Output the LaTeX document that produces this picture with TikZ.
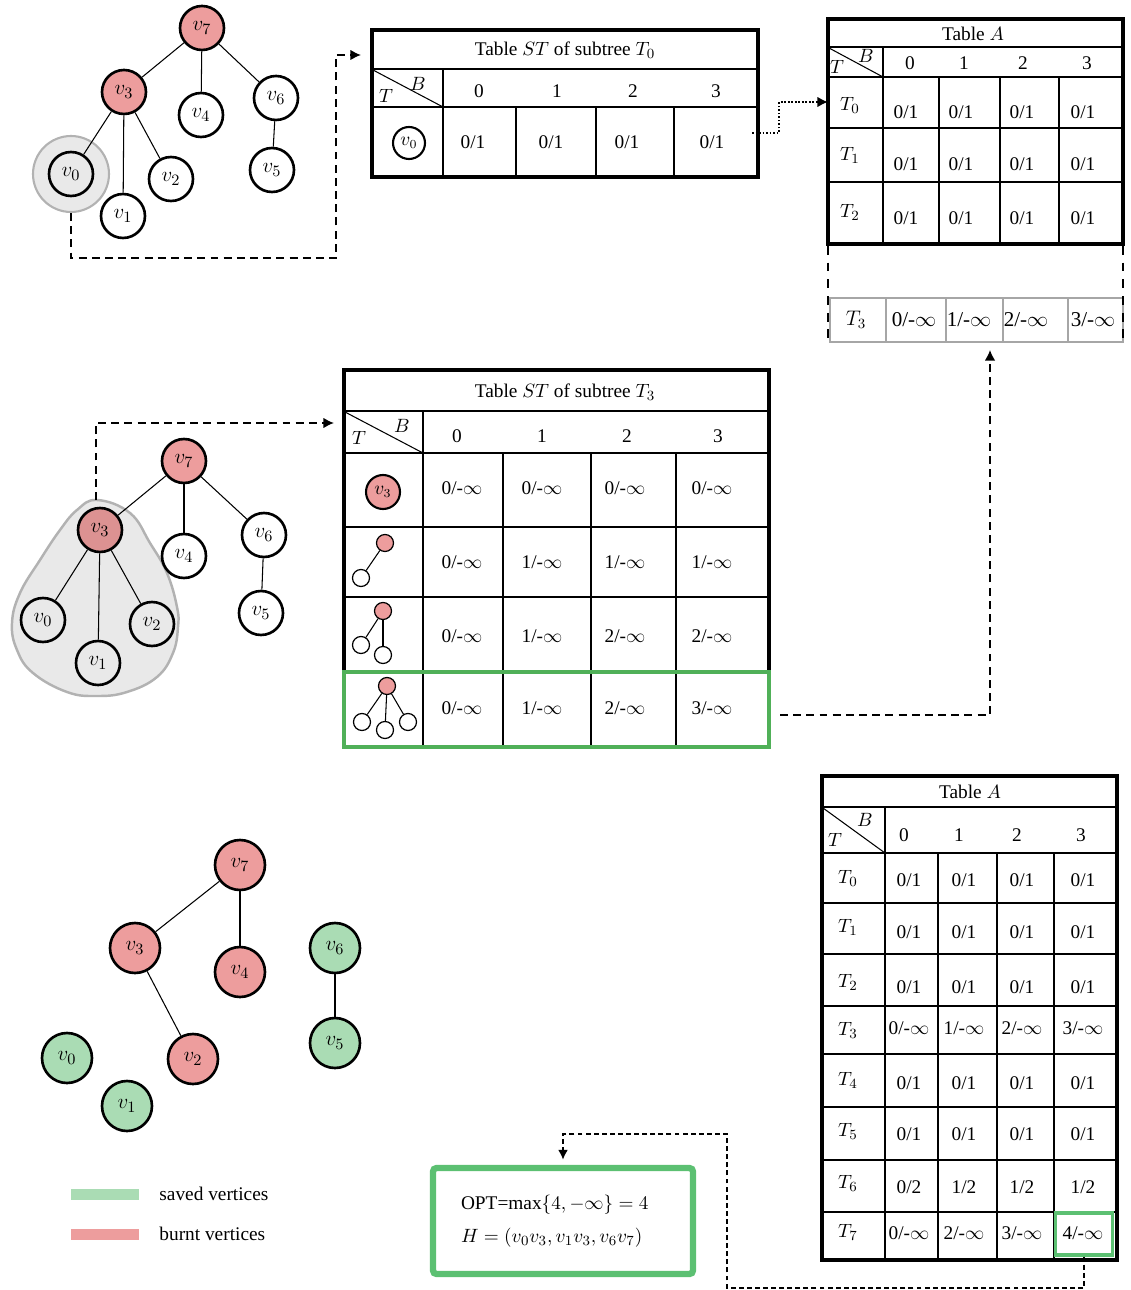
\documentclass[tikz,border=0pt]{standalone}
\usepackage{fontspec}
\setmainfont{Liberation Serif}
\usetikzlibrary{%
        arrows,
        arrows.meta,
        positioning,
        shapes}
\definecolor{burnt}{RGB}{237,157,157}
\definecolor{saved}{RGB}{170,220,180}
\definecolor{okgreen}{RGB}{92,192,114}
\definecolor{rowgreen}{RGB}{80,176,88}
\definecolor{blobgray}{RGB}{233,233,233}
\tikzset{%
    vertex/.style={circle, draw, line width=1.5pt, minimum size=0.88cm,
        inner sep=0pt, font=\fontsize{13}{15}\selectfont},
    burntv/.style={vertex, fill=burnt},
    bigv/.style={vertex, minimum size=1cm},
    cellv/.style={circle, draw, line width=1.2pt, inner sep=0pt,
        minimum size=0.64cm, font=\fontsize{10.5}{12}\selectfont},
    mini/.style={circle, draw, line width=0.7pt, inner sep=0pt,
        minimum size=0.34cm},
    tabcell/.style={inner sep=1pt, font=\fontsize{11}{13}\selectfont},
    tabframe/.style={line width=2.2pt},
    tabrule/.style={line width=1.4pt},
    tedge/.style={line width=0.6pt},
    tip/.style={-{Latex[length=6pt, width=6pt]}},
    link/.style={line width=1pt, dash pattern=on 4.5pt off 3pt, tip},
    legbar/.style={minimum width=1.36cm, minimum height=0.22cm, inner sep=0pt}
}

\begin{document}
\begin{tikzpicture}[x=0.02cm, y=-0.02cm]

    \useasboundingbox (0,0) rectangle (1131,1290);

    \node[circle, fill=blobgray, draw=gray!60, line width=1.2pt,
        minimum size=1.52cm] (ring) at (71,174) {};
    \node[burntv] (a7) at (202,28) {$v_7$};
    \node[burntv] (a3) at (124,92) {$v_3$};
    \node[vertex] (a4) at (201,115) {$v_4$};
    \node[vertex] (a6) at (276,98) {$v_6$};
    \node[vertex] (a0) at (71,174) {$v_0$};
    \node[vertex] (a1) at (123,216) {$v_1$};
    \node[vertex] (a2) at (171,179) {$v_2$};
    \node[vertex] (a5) at (272,170) {$v_5$};
    \foreach \u/\w in {a7/a3, a7/a4, a7/a6, a3/a0, a3/a1, a3/a2, a6/a5}
        \draw[tedge] (\u) -- (\w);

    \coordinate (stAin) at (361,55);
    \draw[link] (ring.south) |- (336,258) |- (stAin);

    \draw[tabframe] (372,30) rectangle (758,177);
    \draw[tabrule] (372,69) -- (758,69) (372,107) -- (758,107)
        (443,69) -- (443,177);
    \foreach \x in {516, 596, 674}
        \draw[tabrule] (\x,107) -- (\x,177);
    \draw[semithick] (373,70) -- (443,107);
    \node[tabcell] (stAtitle) at (565,50) {Table $ST$ of subtree $T_0$};
    \node[tabcell] (stAB) at (418,84) {$B$};
    \node[tabcell] (stAT) at (386,96) {$T$};
    \foreach \x [count=\n from 0] in {479, 557, 633, 716}
        \node[tabcell] (stAh\n) at (\x,91) {\n};
    \node[cellv] (stAv0) at (409,143) {$v_0$};
    \foreach \x [count=\n from 0] in {473, 551, 627, 712}
        \node[tabcell] (stA-\n) at (\x,142) {0/1};

    \coordinate (stAout) at (752,133);
    \coordinate (tAin) at (828,102);
    \draw[densely dotted, line width=1pt, tip] (stAout) -- (779,133) |- (tAin);

    \draw[tabframe] (828,19) rectangle (1123,244);
    \draw[thick] (828,47) -- (1123,47) (828,77) -- (1123,77)
        (828,128) -- (1123,128) (828,182) -- (1123,182);
    \draw[tabrule] (883,47) -- (883,244);
    \foreach \x in {939, 1000, 1059}
        \draw[tabrule] (\x,77) -- (\x,244);
    \draw[semithick] (829,48) -- (883,77);
    \node[tabcell] (tAtitle) at (973,34) {Table $A$};
    \node[tabcell] (tAB) at (866,56) {$B$};
    \node[tabcell] (tAT) at (837,67) {$T$};
    \foreach \x [count=\n from 0] in {910, 964, 1023, 1087}
        \node[tabcell] (tAh\n) at (\x,63) {\n};
    \foreach \y [count=\n from 0] in {105, 155, 212}
        \node[tabcell] (tAr\n) at (850,\y) {$T_\n$};
    \foreach \y [count=\row from 0] in {112, 164, 218}
        \foreach \x [count=\col from 0] in {906, 961, 1022, 1083}
            \node[tabcell] (tA-\row-\col) at (\x,\y) {0/1};

    \draw[gray!70, line width=0.6pt] (830,298) rectangle (1123,342);
    \foreach \x in {886, 946, 1003, 1068}
        \draw[gray!70, line width=0.6pt] (\x,298) -- (\x,342);
    \node[tabcell, font=\fontsize{12}{14}\selectfont] (tAr3) at (856,320) {$T_3$};
    \foreach \x [count=\n from 0] in {914, 969, 1026, 1093}
        \node[tabcell, font=\fontsize{12}{14}\selectfont] (tA-3-\n) at (\x,320)
            {\n/-$\infty$};
    \draw[line width=1.3pt, dash pattern=on 5pt off 4.5pt] (828,246) -- (828,345);
    \draw[line width=1.3pt, dash pattern=on 5pt off 4.5pt] (1123,246) -- (1123,345);

    \draw[fill=blobgray, draw=gray!60, line width=1.4pt]
        plot[smooth cycle, tension=0.7] coordinates {(97,500) (130,513)
        (150,543) (167,573) (177,607) (178,627) (173,653) (157,677)
        (127,692) (97,696) (67,692) (33,673) (17,650) (12,623) (20,593)
        (40,560) (60,530) (77,510)};
    \node[burntv] (b7) at (184,461) {$v_7$};
    \node[burntv, fill=burnt!93!black] (b3) at (100,530) {$v_3$};
    \node[vertex] (b4) at (184,556) {$v_4$};
    \node[vertex] (b6) at (264,535) {$v_6$};
    \node[vertex] (b5) at (261,613) {$v_5$};
    \node[vertex] (b0) at (43,620) {$v_0$};
    \node[vertex] (b1) at (98,663) {$v_1$};
    \node[vertex] (b2) at (152,624) {$v_2$};
    \foreach \u/\w in {b7/b3, b7/b4, b7/b6, b3/b0, b3/b1, b3/b2, b6/b5}
        \draw[tedge] (\u) -- (\w);

    \coordinate (blobtop) at (96,500);
    \coordinate (stBin) at (334,423);
    \draw[link] (blobtop) |- (stBin);

    \draw[tabframe] (344,370) rectangle (769,747);
    \draw[tabrule] (344,411) -- (769,411) (344,453) -- (769,453)
        (344,527) -- (769,527) (344,597) -- (769,597) (344,672) -- (769,672)
        (423,411) -- (423,747);
    \foreach \x in {503, 591, 676}
        \draw[tabrule] (\x,453) -- (\x,747);
    \draw[semithick] (345,412) -- (423,453);
    \node[tabcell] (stBtitle) at (565,392) {Table $ST$ of subtree $T_3$};
    \node[tabcell] (stBB) at (402,426) {$B$};
    \node[tabcell] (stBT) at (359,438) {$T$};
    \foreach \x [count=\n from 0] in {457, 542, 627, 718}
        \node[tabcell] (stBh\n) at (\x,436) {\n};

    \node[cellv, fill=burnt, minimum size=0.68cm] (stBv3) at (383,492) {$v_3$};
    \node[mini, fill=burnt] (p1) at (385,543) {};
    \node[mini] (p1a) at (361,578) {};
    \node[mini, fill=burnt] (p2) at (383,611) {};
    \node[mini] (p2a) at (361,645) {};
    \node[mini] (p2b) at (383,655) {};
    \node[mini, fill=burnt] (p3) at (387,686) {};
    \node[mini] (p3a) at (362,722) {};
    \node[mini] (p3b) at (385,730) {};
    \node[mini] (p3c) at (408,722) {};
    \foreach \u/\w in {p1/p1a, p2/p2a, p2/p2b, p3/p3a, p3/p3b, p3/p3c}
        \draw[tedge] (\u) -- (\w);

    \foreach \y/\va/\vb/\vc/\vd [count=\row from 0] in
        {488/0/0/0/0, 562/0/1/1/1, 636/0/1/2/2, 708/0/1/2/3}
        \foreach \x/\v [count=\col from 0] in {462/\va, 542/\vb, 625/\vc, 712/\vd}
            \node[tabcell] (stB-\row-\col) at (\x,\y) {\v/-$\infty$};
    \node[draw=rowgreen, line width=2.2pt, minimum width=8.5cm,
        minimum height=1.5cm, inner sep=0pt] (stBsel) at (556.5,709.5) {};

    \coordinate (stBout) at (780,715);
    \coordinate (tAT3) at (990,350);
    \draw[link, line width=0.9pt] (stBout) -| (tAT3);

    \node[burntv, bigv] (c7) at (240,865) {$v_7$};
    \node[burntv, bigv] (c3) at (135,948) {$v_3$};
    \node[burntv, bigv] (c4) at (240,972) {$v_4$};
    \node[burntv, bigv] (c2) at (193,1059) {$v_2$};
    \node[bigv, fill=saved] (c6) at (335,948) {$v_6$};
    \node[bigv, fill=saved] (c5) at (335,1043) {$v_5$};
    \node[bigv, fill=saved] (c0) at (67,1058) {$v_0$};
    \node[bigv, fill=saved] (c1) at (127,1106) {$v_1$};
    \foreach \u/\w in {c7/c3, c7/c4, c3/c2, c6/c5}
        \draw[tedge] (\u) -- (\w);

    \node[legbar, fill=saved] (legsaved) at (105,1194) {};
    \node[tabcell, right=0.36cm of legsaved] (legsavedtxt) {saved vertices};
    \node[legbar, fill=burnt] (legburnt) at (105,1234) {};
    \node[tabcell, right=0.36cm of legburnt] (legburnttxt) {burnt vertices};

    \node[draw=okgreen, line width=3.6pt, rounded corners=2pt,
        minimum height=2.12cm, text width=4.08cm, inner xsep=0.56cm,
        align=left, font=\fontsize{11}{13}\selectfont] (opt) at (563,1221)
        {OPT=$\max\{4,-\infty\}=4$\\[6pt] $H=(v_0v_3, v_1v_3, v_6v_7)$};

    \draw[tabframe] (822,776) rectangle (1117,1260);
    \foreach \y in {807, 853, 903, 954, 1006, 1054, 1107, 1160, 1212}
        \draw[tabrule] (822,\y) -- (1117,\y);
    \draw[tabrule] (885,807) -- (885,1260);
    \foreach \x in {938, 997, 1054}
        \draw[tabrule] (\x,853) -- (\x,1260);
    \draw[semithick] (823,808) -- (885,853);
    \node[tabcell] (tBtitle) at (970,792) {Table $A$};
    \node[tabcell] (tBB) at (865,820) {$B$};
    \node[tabcell] (tBT) at (835,840) {$T$};
    \foreach \x [count=\n from 0] in {904, 959, 1017, 1081}
        \node[tabcell] (tBh\n) at (\x,835) {\n};
    \foreach \y [count=\n from 0] in {878, 927, 982, 1030, 1080, 1131, 1183, 1232}
        \node[tabcell] (tBr\n) at (848,\y) {$T_\n$};
    \foreach \y/\va/\vb/\vc/\vd/\den [count=\row from 0] in
        {880/0/0/0/0/1, 932/0/0/0/0/1, 987/0/0/0/0/1, 1028/0/1/2/3/-$\infty$,
         1083/0/0/0/0/1, 1134/0/0/0/0/1, 1187/0/1/1/1/2, 1233/0/2/3/4/-$\infty$}
        \foreach \x/\v [count=\col from 0] in {909/\va, 964/\vb, 1022/\vc, 1083/\vd}
            \node[tabcell] (tB-\row-\col) at (\x,\y) {\v/\den};
    \node[draw=okgreen, line width=1.8pt, minimum width=1.14cm,
        minimum height=0.84cm, inner sep=0pt] (tBsel) at (1084,1234) {};

    \coordinate (optturn) at (727,1134);
    \draw[line width=0.7pt, dash pattern=on 2.8pt off 1.8pt,
        -{Latex[length=5.5pt, width=5.5pt]}]
        (tBsel.south) |- (727,1288) -- (optturn) -| ([yshift=3pt]opt.north);

\end{tikzpicture}
\end{document}
